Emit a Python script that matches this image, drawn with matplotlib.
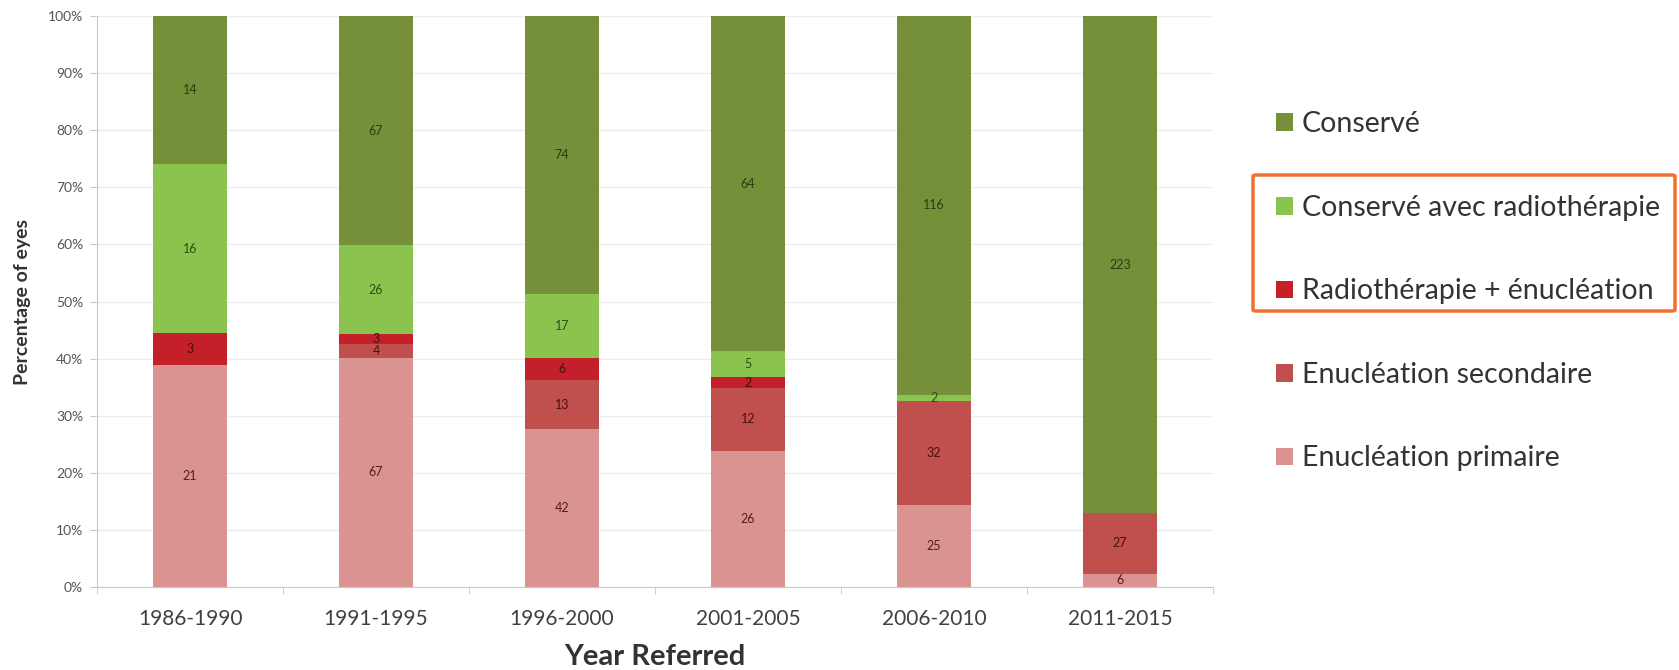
import matplotlib
matplotlib.use("Agg")
import matplotlib.pyplot as plt
from matplotlib.patches import FancyBboxPatch, Patch
import numpy as np

plt.rcParams['font.family'] = ['Lato', 'DejaVu Sans']

periods = ["1986-1990", "1991-1995", "1996-2000", "2001-2005", "2006-2010", "2011-2015"]

# Eye counts per outcome, bottom to top of each stacked bar
enucleation_primaire = [21, 67, 42, 26, 25, 6]
enucleation_secondaire = [0, 4, 13, 12, 32, 27]
radio_enucleation = [3, 3, 6, 2, 0, 0]
conserve_radio = [16, 26, 17, 5, 2, 0]
conserve = [14, 67, 74, 64, 116, 223]

series = [
    ("Enucléation primaire", enucleation_primaire, "#d99391", "#5a1a1a"),
    ("Enucléation secondaire", enucleation_secondaire, "#c0504e", "#4a0f0f"),
    ("Radiothérapie + énucléation", radio_enucleation, "#c3202a", "#4a0f0f"),
    ("Conservé avec radiothérapie", conserve_radio, "#8bc34f", "#2f4d12"),
    ("Conservé", conserve, "#76903a", "#2a3d10"),
]

counts = np.array([s[1] for s in series], dtype=float)
totals = counts.sum(axis=0)
shares = counts / totals * 100

fig = plt.figure(figsize=(16.79, 6.70), dpi=100)
ax = fig.add_axes([0.0578, 0.1239, 0.7225 - 0.0578, 0.976 - 0.1239])

x = np.arange(len(periods))
bottom = np.zeros(len(periods))
handles = []
for (name, vals, color, tcolor), pct in zip(series, shares):
    ax.bar(x, pct, bottom=bottom, width=0.4, color=color, edgecolor="none", zorder=2)
    for i, (v, p) in enumerate(zip(vals, pct)):
        if v > 0:
            ax.text(x[i], bottom[i] + p / 2, str(v), ha="center", va="center",
                    fontsize=9, color=tcolor, zorder=3)
    bottom += pct
    handles.append(Patch(facecolor=color, edgecolor="none", label=name))

ax.set_xlim(-0.5, len(periods) - 0.5)
ax.set_ylim(0, 100)
ax.set_yticks(np.arange(0, 101, 10))
ax.set_yticklabels([f"{v}%" for v in range(0, 101, 10)], fontsize=10, color="#555555")
ax.set_xticks(x)
ax.set_xticklabels(periods, fontsize=15, color="#404040")
ax.set_xticks(np.arange(-0.5, len(periods), 1), minor=True)
ax.tick_params(axis="x", which="major", length=0, pad=16)
ax.tick_params(axis="x", which="minor", length=5, color="#c8c8c8", direction="out")
ax.tick_params(axis="y", length=5, color="#c8c8c8", pad=5)
ax.yaxis.grid(True, color="#ececec", linewidth=1, zorder=0)
ax.set_axisbelow(True)
for side in ("top", "right"):
    ax.spines[side].set_visible(False)
for side in ("left", "bottom"):
    ax.spines[side].set_color("#c8c8c8")

ax.set_xlabel("Year Referred", fontsize=21, fontweight="bold", color="#333333", labelpad=11)
ax.set_ylabel("Percentage of eyes", fontsize=14, fontweight="bold", color="#333333", labelpad=12)

# Legend, top entry first
leg = fig.legend(handles=handles[::-1], loc="upper left", bbox_to_anchor=(0.745, 0.872),
                 frameon=False, fontsize=20.5, handlelength=0.58, handleheight=0.58,
                 handletextpad=0.3, labelspacing=2.02, labelcolor="#333333")

# Highlight frame around the two radiotherapy entries
box = FancyBboxPatch((1253 / 1679, 1 - 311 / 670), (1675 - 1253) / 1679, (311 - 175) / 670,
                     boxstyle="round,pad=0,rounding_size=0.002", transform=fig.transFigure,
                     facecolor="none", edgecolor="#f07030", linewidth=2.5)
fig.patches.append(box)

fig.savefig("out.png", dpi=100)
